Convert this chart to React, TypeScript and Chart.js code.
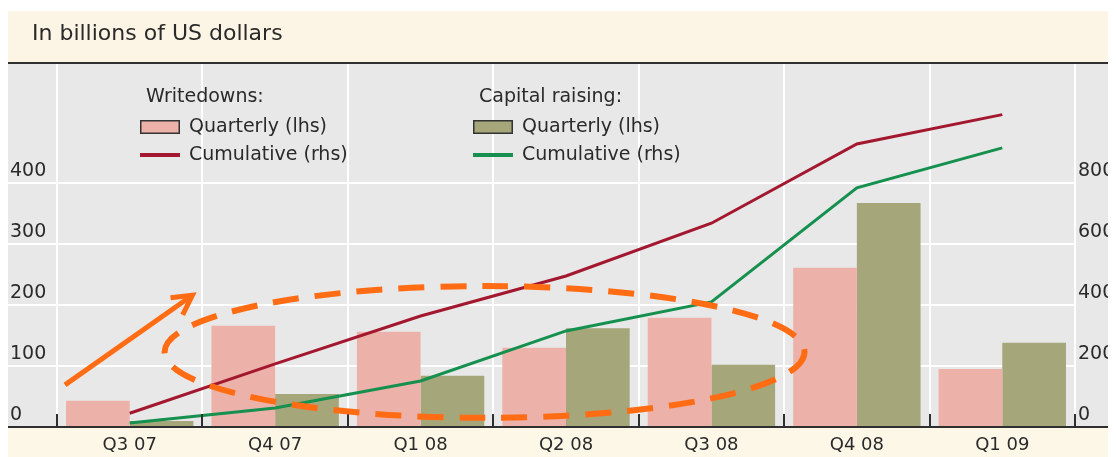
import React, { useEffect, useRef } from "react";
import { Chart, registerables } from "chart.js";

Chart.register(...registerables);

// Quarters on the category axis
const quarters = ["Q3 07", "Q4 07", "Q1 08", "Q2 08", "Q3 08", "Q4 08", "Q1 09"];

// Quarterly amounts, billions of US dollars (left axis)
const writedownsQuarterly = [43, 166, 156, 130, 179, 261, 95];
const capitalQuarterly = [10, 54, 84, 162, 102, 367, 138];

// Running totals, billions of US dollars (right axis)
const writedownsCumulative = [45, 207, 364, 495, 668, 928, 1024];
const capitalCumulative = [13, 62, 151, 315, 410, 784, 915];

// Labelled ticks on each axis
const leftTicks = [0, 100, 200, 300, 400];
const rightTicks = [0, 200, 400, 600, 800];
const leftMax = 595;
const rightMax = 1190;

// Hand-drawn highlights, in category-index / left-axis units
const arrowFrom = [-0.445, 69];
const arrowTo = [0.431, 216];
const ellipseCenter = [2.44, 123];
const ellipseRadii = [2.2, 108];

const FONT = '"DejaVu Sans", "Liberation Sans", Arial, sans-serif';
const PINK = "#ecb2aa";
const OLIVE = "#a5a67a";
const RED = "#a3172f";
const GREEN = "#15904f";
const ORANGE = "#ff6c14";
const TEXT = "#2a2a2a";

const framePlugin = {
  id: "frame",
  beforeDraw(chart: any) {
    const { ctx, width, height, chartArea } = chart;
    ctx.save();
    // title band
    ctx.fillStyle = "#fcf5e5";
    ctx.fillRect(0, 3, width, chartArea.top - 5);
    ctx.fillStyle = "#2f2f2f";
    ctx.fillRect(0, chartArea.top - 2, width, 2);
    // plot band
    ctx.fillStyle = "#e8e8e8";
    ctx.fillRect(0, chartArea.top, width, chartArea.bottom - chartArea.top);
    // category label band
    ctx.fillStyle = "#fdf7e8";
    ctx.fillRect(0, chartArea.bottom, width, height - chartArea.bottom);
    // title
    ctx.fillStyle = TEXT;
    ctx.font = `22px ${FONT}`;
    ctx.textAlign = "left";
    ctx.textBaseline = "middle";
    ctx.fillText("In billions of US dollars", 24, 26);
    ctx.restore();
  },
  afterDatasetsDraw(chart: any) {
    const { ctx, chartArea, width } = chart;
    const xs = chart.scales.x;
    const ys = chart.scales.y;
    ctx.save();
    // baseline
    ctx.fillStyle = "#2f2f2f";
    ctx.fillRect(0, chartArea.bottom - 1, width, 2);
    // tick marks at category boundaries
    const n = quarters.length;
    for (let i = 0; i <= n; i++) {
      const x = xs.getPixelForValue(i - 0.5);
      ctx.fillRect(Math.round(x) - 1, chartArea.bottom - 13, 2, 13);
    }

    // highlight ellipse
    const cx = xs.getPixelForValue(ellipseCenter[0]);
    const cy = ys.getPixelForValue(ellipseCenter[1]);
    const rx = xs.getPixelForValue(ellipseCenter[0] + ellipseRadii[0]) - cx;
    const ry = cy - ys.getPixelForValue(ellipseCenter[1] + ellipseRadii[1]);
    ctx.strokeStyle = ORANGE;
    ctx.lineWidth = 6;
    ctx.setLineDash([26, 16]);
    ctx.beginPath();
    ctx.ellipse(cx, cy, rx, ry, 0, 0, Math.PI * 2);
    ctx.stroke();
    ctx.setLineDash([]);

    // trend arrow
    const ax1 = xs.getPixelForValue(arrowFrom[0]);
    const ay1 = ys.getPixelForValue(arrowFrom[1]);
    const ax2 = xs.getPixelForValue(arrowTo[0]);
    const ay2 = ys.getPixelForValue(arrowTo[1]);
    const ang = Math.atan2(ay2 - ay1, ax2 - ax1);
    ctx.lineWidth = 5;
    ctx.lineCap = "butt";
    ctx.beginPath();
    ctx.moveTo(ax1, ay1);
    ctx.lineTo(ax2 - 3 * Math.cos(ang), ay2 - 3 * Math.sin(ang));
    ctx.stroke();
    const head = 22;
    ctx.lineJoin = "miter";
    ctx.beginPath();
    ctx.moveTo(ax2 - head * Math.cos(ang - 0.5), ay2 - head * Math.sin(ang - 0.5));
    ctx.lineTo(ax2, ay2);
    ctx.lineTo(ax2 - head * Math.cos(ang + 0.5), ay2 - head * Math.sin(ang + 0.5));
    ctx.stroke();
    ctx.restore();
  },
  afterDraw(chart: any) {
    const { ctx } = chart;
    ctx.save();
    ctx.font = `19px ${FONT}`;
    ctx.textAlign = "left";
    ctx.textBaseline = "middle";
    const groups = [
      { header: "Writedowns:", x: 132, bar: PINK, line: RED },
      { header: "Capital raising:", x: 465, bar: OLIVE, line: GREEN },
    ];
    for (const g of groups) {
      ctx.fillStyle = TEXT;
      ctx.fillText(g.header, g.x + 6, 89);
      // bar swatch
      ctx.fillStyle = g.bar;
      ctx.fillRect(g.x, 112, 40, 14);
      ctx.strokeStyle = "#333";
      ctx.lineWidth = 1.5;
      ctx.strokeRect(g.x + 0.75, 112.75, 38.5, 12.5);
      // line swatch
      ctx.fillStyle = g.line;
      ctx.fillRect(g.x, 145, 40, 4);
      ctx.fillStyle = TEXT;
      ctx.fillText("Quarterly (lhs)", g.x + 49, 119);
      ctx.fillText("Cumulative (rhs)", g.x + 49, 147);
    }
    ctx.restore();
  },
};

export default function App() {
  const canvasRef = useRef<HTMLCanvasElement | null>(null);

  useEffect(() => {
    if (!canvasRef.current) return;
    const gridColor = "#ffffff";
    const chart = new Chart(canvasRef.current, {
      type: "bar",
      data: {
        labels: quarters,
        datasets: [
          {
            type: "line",
            label: "Writedowns cumulative",
            data: writedownsCumulative,
            yAxisID: "y1",
            borderColor: RED,
            borderWidth: 3,
            pointRadius: 0,
            tension: 0,
            order: 0,
          },
          {
            type: "line",
            label: "Capital raising cumulative",
            data: capitalCumulative,
            yAxisID: "y1",
            borderColor: GREEN,
            borderWidth: 3,
            pointRadius: 0,
            tension: 0,
            order: 0,
          },
          {
            label: "Writedowns quarterly",
            data: writedownsQuarterly,
            yAxisID: "y",
            backgroundColor: PINK,
            categoryPercentage: 0.876,
            barPercentage: 1,
            order: 1,
          },
          {
            label: "Capital raising quarterly",
            data: capitalQuarterly,
            yAxisID: "y",
            backgroundColor: OLIVE,
            categoryPercentage: 0.876,
            barPercentage: 1,
            order: 1,
          },
        ],
      } as any,
      options: {
        responsive: false,
        animation: false,
        events: [],
        layout: { padding: { top: 56, left: 2, right: 0, bottom: 0 } },
        plugins: {
          legend: { display: false },
          tooltip: { enabled: false },
          title: { display: false },
        },
        scales: {
          x: {
            grid: {
              color: gridColor,
              lineWidth: 2,
              drawTicks: false,
              offset: true,
            },
            border: { display: false },
            ticks: {
              color: TEXT,
              font: { family: FONT, size: 18 },
              padding: 8,
              maxRotation: 0,
            },
            afterFit(scale: any) {
              scale.height = 30;
            },
          },
          y: {
            position: "left",
            min: 0,
            max: leftMax,
            afterBuildTicks(scale: any) {
              scale.ticks = leftTicks.map((v) => ({ value: v }));
            },
            grid: {
              color: gridColor,
              tickColor: gridColor,
              lineWidth: 2,
              drawTicks: true,
              tickLength: 49,
            },
            border: { display: false },
            ticks: {
              color: TEXT,
              font: { family: FONT, size: 19 },
              crossAlign: "far",
              labelOffset: -12,
            },
            afterFit(scale: any) {
              scale.width = 47;
            },
          },
          y1: {
            position: "right",
            min: 0,
            max: rightMax,
            afterBuildTicks(scale: any) {
              scale.ticks = rightTicks.map((v) => ({ value: v }));
            },
            grid: { display: false, drawTicks: false },
            border: { display: false },
            ticks: {
              color: TEXT,
              font: { family: FONT, size: 19 },
              crossAlign: "near",
              padding: 3,
              labelOffset: -12,
            },
            afterFit(scale: any) {
              scale.width = 41;
            },
          },
        },
      } as any,
      plugins: [framePlugin],
    });
    return () => chart.destroy();
  }, []);

  return (
    <div style={{ width: 1108, height: 449 }}>
      <canvas ref={canvasRef} width={1108} height={449} style={{ display: "block" }} />
    </div>
  );
}
